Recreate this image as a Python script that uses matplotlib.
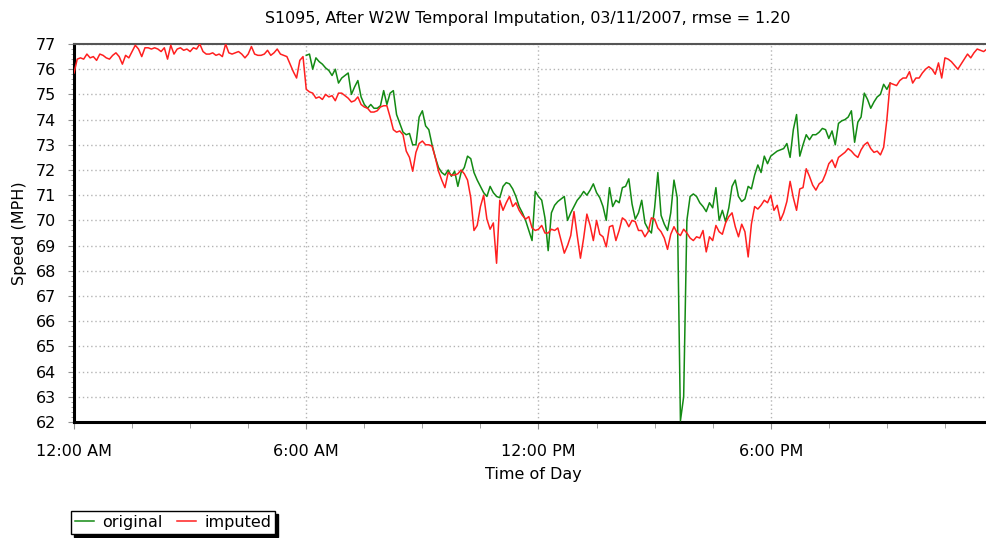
import numpy as np
import matplotlib
matplotlib.use("Agg")
import matplotlib.pyplot as plt
from matplotlib.ticker import MultipleLocator, FixedLocator

plt.rcParams['font.family'] = ['DejaVu Sans']

title = "S1095, After W2W Temporal Imputation, 03/11/2007, rmse = 1.20"
x_label = "Time of Day"
y_label = "Speed (MPH)"
series_names = ["original", "imputed"]
x_tick_labels = ["12:00 AM", "6:00 AM", "12:00 PM", "6:00 PM"]
step_minutes = 5

# imputed speed, 5-minute samples starting 12:00 AM
imputed = [
    75.85, 76.4, 76.45, 76.4, 76.6, 76.45, 76.5, 76.35, 76.6, 76.55, 76.45, 76.4,
    76.55, 76.65, 76.5, 76.2, 76.55, 76.45, 76.7, 76.95, 76.8, 76.5, 76.85, 76.85,
    76.8, 76.85, 76.8, 76.7, 76.85, 76.4, 76.95, 76.6, 76.8, 76.85, 76.75, 76.8,
    76.7, 76.85, 76.8, 77.0, 76.7, 76.6, 76.6, 76.65, 76.55, 76.6, 76.5, 77.0,
    76.65, 76.6, 76.65, 76.7, 76.6, 76.45, 76.6, 76.9, 76.6, 76.55, 76.55, 76.6,
    76.75, 76.55, 76.65, 76.8, 76.6, 76.55, 76.5, 76.2, 75.9, 75.65, 76.35, 76.5,
    75.2, 75.1, 75.05, 74.85, 74.9, 74.8, 75.0, 74.9, 74.95, 74.75, 75.05, 75.05,
    74.95, 74.85, 74.7, 74.75, 74.9, 74.6, 74.5, 74.45, 74.3, 74.3, 74.35, 74.5,
    74.55, 74.55, 74.1, 73.6, 73.5, 73.55, 73.4, 72.75, 72.5, 71.95, 72.7, 73.05,
    73.15, 73.0, 73.0, 72.95, 72.5, 71.95, 71.6, 71.3, 71.9, 71.8, 71.8, 71.85,
    72.0, 71.85, 71.6, 70.9, 69.6, 69.8, 70.55, 71.0, 70.05, 69.65, 69.9, 68.3,
    70.8, 70.4, 70.7, 70.95, 70.55, 70.7, 70.4, 70.2, 70.05, 70.15, 69.7, 69.6,
    69.65, 69.8, 69.5, 69.5, 69.65, 69.6, 69.7, 69.2, 68.7, 69.0, 69.4, 70.35,
    69.4, 68.5, 69.3, 70.25, 69.8, 69.2, 70.0, 69.45, 69.35, 68.95, 69.75, 69.8,
    69.2, 69.6, 70.1, 70.0, 69.75, 70.0, 69.95, 69.6, 69.6, 69.35, 69.55, 70.1,
    70.05, 69.7, 69.55, 69.3, 68.85, 69.45, 69.75, 69.5, 69.4, 69.65, 69.5, 69.3,
    69.2, 69.35, 69.3, 69.6, 68.75, 69.35, 69.2, 69.8, 69.55, 69.45, 69.9, 70.15,
    70.3, 69.75, 69.35, 69.85, 69.55, 68.55, 69.85, 70.55, 70.45, 70.6, 70.8, 70.7,
    71.0, 70.4, 70.6, 70.0, 70.3, 70.75, 71.55, 70.9, 70.4, 71.25, 71.3, 72.05,
    71.75, 71.4, 71.2, 71.45, 71.55, 71.85, 72.25, 72.4, 72.1, 72.5, 72.6, 72.7,
    72.85, 72.75, 72.6, 72.5, 72.8, 73.0, 73.1, 72.85, 72.7, 72.75, 72.6, 72.9,
    74.0, 75.45, 75.4, 75.35, 75.55, 75.65, 75.65, 75.9, 75.45, 75.65, 75.65, 75.85,
    76.0, 76.1, 76.0, 75.8, 76.25, 75.65, 76.45, 76.4, 76.3, 76.15, 76.0, 76.2,
    76.4, 76.6, 76.45, 76.65, 76.8, 76.75, 76.7, 76.8, 76.7,
]

# original speed, 5-minute samples starting 6:00 AM
original_start_index = 72
original = [
    76.55, 76.6, 76.0, 76.45, 76.3, 76.2, 76.05, 75.95, 75.75, 76.0, 75.45, 75.65,
    75.75, 75.85, 75.0, 75.3, 75.55, 74.9, 74.6, 74.45, 74.6, 74.45, 74.45, 74.55,
    75.15, 74.6, 75.05, 75.15, 74.2, 73.85, 73.5, 73.4, 73.45, 73.0, 73.0, 74.1,
    74.35, 73.75, 73.6, 73.0, 72.5, 72.1, 71.9, 71.8, 72.0, 71.75, 71.95, 71.35,
    71.9, 72.1, 72.55, 72.45, 71.9, 71.6, 71.35, 71.1, 70.95, 71.35, 71.1, 70.95,
    70.9, 71.35, 71.5, 71.45, 71.25, 70.95, 70.55, 70.3, 70.0, 69.6, 69.2, 71.15,
    70.95, 70.8, 70.1, 68.8, 70.3, 70.6, 70.75, 70.85, 70.95, 70.0, 70.3, 70.55,
    70.8, 70.95, 71.15, 71.0, 71.2, 71.45, 71.1, 70.9, 70.55, 70.0, 71.3, 70.55,
    70.8, 70.7, 71.3, 71.35, 71.65, 70.65, 70.05, 70.3, 70.8, 69.9, 69.65, 69.5,
    70.5, 71.9, 70.2, 69.85, 69.6, 70.3, 71.6, 70.9, 62.05, 63.0, 70.0, 70.95,
    71.05, 70.95, 70.7, 70.55, 70.35, 70.7, 70.5, 71.3, 70.0, 70.4, 69.95, 70.5,
    71.35, 71.6, 70.95, 70.75, 70.85, 71.35, 71.25, 71.8, 72.2, 71.9, 72.55, 72.25,
    72.55, 72.65, 72.75, 72.8, 72.85, 73.05, 72.5, 73.6, 74.2, 72.55, 73.0, 73.4,
    73.2, 73.4, 73.4, 73.5, 73.65, 73.6, 73.25, 73.55, 73.0, 73.85, 73.95, 74.0,
    74.1, 74.35, 73.1, 73.9, 74.1, 75.05, 74.8, 74.45, 74.7, 74.9, 75.0, 75.4,
    75.2, 75.45,
]

t_imp = np.arange(len(imputed)) * step_minutes / 60.0
t_org = (original_start_index + np.arange(len(original))) * step_minutes / 60.0

W, H = 987, 538
fig = plt.figure(figsize=(W / 100, H / 100), dpi=100)
ax_left, ax_right, ax_top, ax_bottom = 74, 1003, 44, 422
ax = fig.add_axes([ax_left / W, 1 - ax_bottom / H, (ax_right - ax_left) / W, (ax_bottom - ax_top) / H])

l1, = ax.plot(t_org, original, color='#138a13', lw=1.1, label=series_names[0], zorder=3)
l2, = ax.plot(t_imp, imputed, color='#ff1f1f', lw=1.1, label=series_names[1], zorder=4)

ax.set_xlim(0, 24)
ax.set_ylim(62, 77)
ax.xaxis.set_major_locator(FixedLocator([0, 6, 12, 18]))
ax.set_xticklabels(x_tick_labels)
ax.xaxis.set_minor_locator(MultipleLocator(1.5))
ax.yaxis.set_major_locator(MultipleLocator(1))
ax.yaxis.set_minor_locator(MultipleLocator(0.2))

ax.grid(True, which='major', color='#b4b4b4', linestyle=(0, (1, 2)), lw=1.0)
ax.set_axisbelow(True)

for s in ['left', 'bottom']:
    ax.spines[s].set_color('black')
    ax.spines[s].set_linewidth(2.2)
ax.spines['top'].set_color('#555555')
ax.spines['top'].set_linewidth(1.5)
ax.spines['right'].set_visible(False)

ax.tick_params(axis='both', which='major', color='#909090', direction='out')
ax.tick_params(axis='y', which='major', length=4, pad=9, labelsize=11.5)
ax.tick_params(axis='y', which='minor', length=2, color='#909090')
ax.tick_params(axis='x', which='major', length=5, pad=11, labelsize=11.5)
ax.tick_params(axis='x', which='minor', length=4, color='#909090')

fig.text(528 / W, 1 - 18 / H, title, ha='center', va='center', fontsize=11.4)
fig.text(533 / W, 1 - 475 / H, x_label, ha='center', va='center', fontsize=11.5)
fig.text(20 / W, 1 - 233 / H, y_label, ha='center', va='center', rotation=90, fontsize=11.5)

leg = fig.legend(handles=[l1, l2], loc='upper left', bbox_to_anchor=(71 / W, 1 - 511 / H),
                 ncol=2, frameon=True, fancybox=False, shadow={'color': 'black', 'alpha': 1},
                 fontsize=11.5, handlelength=1.2, handletextpad=0.5, columnspacing=0.9,
                 borderpad=0.25, borderaxespad=0)
leg.get_frame().set_edgecolor('black')
leg.get_frame().set_linewidth(1.0)

fig.savefig('out.png', dpi=100)
